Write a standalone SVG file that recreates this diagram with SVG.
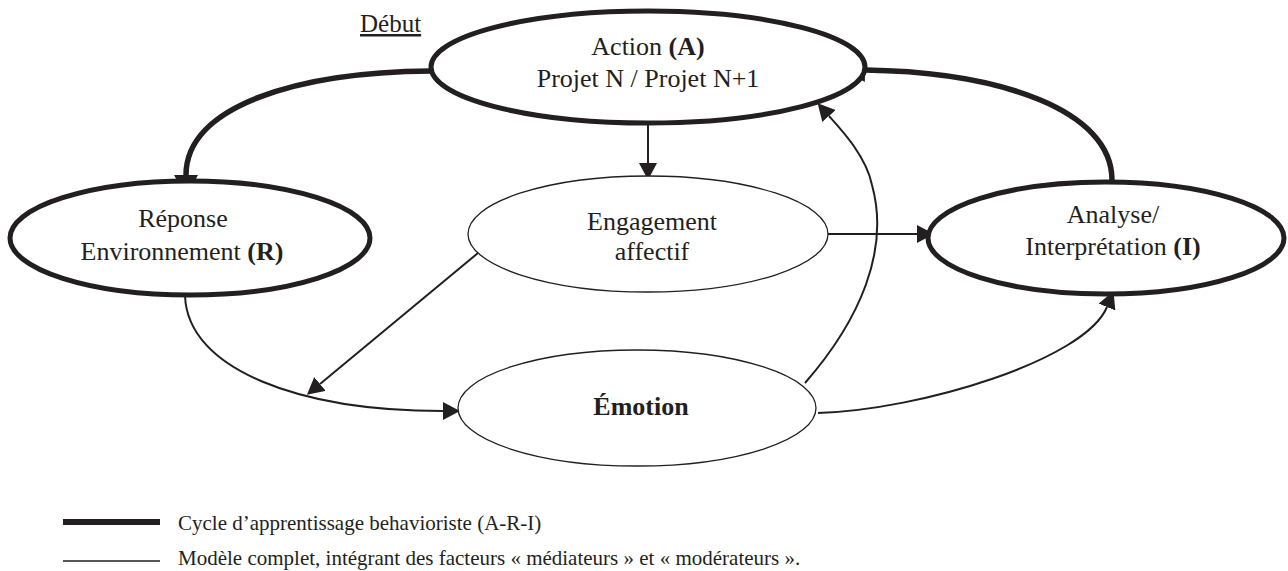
<svg xmlns="http://www.w3.org/2000/svg" width="1288" height="571" viewBox="0 0 1288 571">
<style>
text{font-family:"Liberation Serif","Times New Roman",serif;fill:#231f20;}
.lbl{font-size:26px;text-anchor:middle;}
.leg{font-size:21px;}
.thick{fill:#fff;stroke:#231f20;stroke-width:5;}
.thin{fill:#fff;stroke:#231f20;stroke-width:1.3;}
.cthick{fill:none;stroke:#231f20;stroke-width:5.5;}
.cthin{fill:none;stroke:#231f20;stroke-width:2;}
</style>
<defs>
<marker id="ah" markerUnits="userSpaceOnUse" markerWidth="24" markerHeight="26" refX="0" refY="12" orient="auto">
<path d="M0,0 L22,12 L0,24 Z" fill="#231f20"/>
</marker>
<marker id="at" markerUnits="userSpaceOnUse" markerWidth="19" markerHeight="20" refX="0" refY="9" orient="auto">
<path d="M0,0 L17,9 L0,18 Z" fill="#231f20"/>
</marker>
</defs>
<rect width="1288" height="571" fill="#fff"/>

<g id="connectors">
<path class="cthick" d="M431,71 C300,72 186,105 186,175" marker-end="url(#ah)"/>
<path class="cthick" d="M1112,180 C1112,110 1000,72 865,70" marker-end="url(#ah)"/>
<path class="cthin" d="M648,123 L648,163" marker-end="url(#at)"/>
<path class="cthin" d="M827,234 L917,234" marker-end="url(#at)"/>
<path class="cthin" d="M478,253 L320,384" marker-end="url(#at)"/>
<path class="cthin" d="M185,296 C188,370 300,411 443,411" marker-end="url(#at)"/>
<path class="cthin" d="M805,383 C860,320 890,250 872,185 C866,155 838,126 829,116" marker-end="url(#at)"/>
<path class="cthin" d="M818,413 C920,410 1085,360 1107,307" marker-end="url(#at)"/>
</g>

<g id="node-action">
<ellipse class="thick" cx="648" cy="67" rx="217" ry="56"/>
<text class="lbl" x="648" y="55">Action <tspan font-weight="bold">(A)</tspan></text>
<text class="lbl" x="648" y="87">Projet N / Projet N+1</text>
</g>
<g id="node-reponse">
<ellipse class="thick" cx="190" cy="238" rx="180" ry="57"/>
<text class="lbl" x="183" y="227">Réponse</text>
<text class="lbl" x="182" y="260">Environnement <tspan font-weight="bold">(R)</tspan></text>
</g>
<g id="node-engagement">
<ellipse class="thin" cx="648" cy="234" rx="180" ry="58"/>
<text class="lbl" x="652" y="230">Engagement</text>
<text class="lbl" x="652" y="260">affectif</text>
</g>
<g id="node-analyse">
<ellipse class="thick" cx="1106" cy="238" rx="178" ry="56"/>
<text class="lbl" x="1113" y="223">Analyse/</text>
<text class="lbl" x="1113" y="255">Interprétation <tspan font-weight="bold">(I)</tspan></text>
</g>
<g id="node-emotion">
<ellipse class="thin" cx="637" cy="408" rx="179" ry="58"/>
<text class="lbl" x="641" y="415" font-weight="bold">Émotion</text>
</g>
<g id="debut">
<text x="360" y="32" font-size="25" text-decoration="underline">Début</text>
</g>
<g id="legend">
<line x1="63" y1="522" x2="160" y2="522" stroke="#231f20" stroke-width="6"/>
<line x1="63" y1="561" x2="160" y2="561" stroke="#231f20" stroke-width="1.5"/>
<text class="leg" x="178" y="530">Cycle d’apprentissage behavioriste (A-R-I)</text>
<text class="leg" x="178" y="565">Modèle complet, intégrant des facteurs « médiateurs » et « modérateurs ».</text>
</g>
</svg>
